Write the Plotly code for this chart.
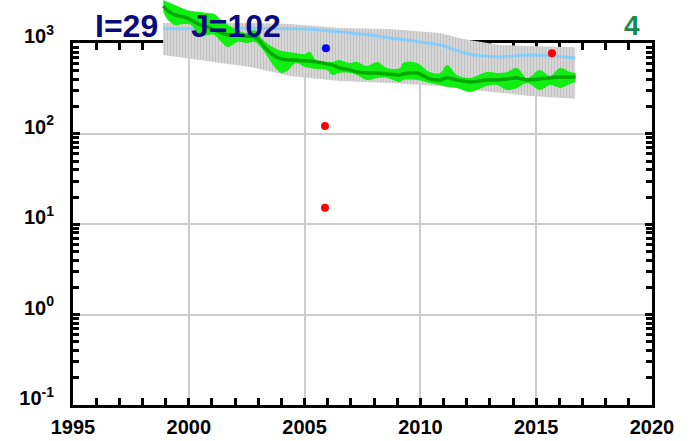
import plotly.graph_objects as go

# ---------------- data ----------------
gray_years = [1998.89, 2000.48, 2002.64, 2004.37, 2006.53, 2008.69, 2010.85,
              2011.84, 2012.57, 2013.44, 2014.73, 2016.68]
gray_hi = [1684, 1684, 1684, 1642, 1484, 1446, 1306, 1121, 1040, 962, 938, 905]
gray_lo = [746, 657, 550, 437, 385, 366, 339, 314, 299, 284, 263, 244]

blue_years = [1998.89, 2004.8, 2006.5, 2007.8, 2008.7, 2010.0, 2010.85,
              2011.9, 2012.6, 2013.4, 2014.7, 2015.6, 2016.68]
blue_vals = [1450, 1450, 1340, 1240, 1150, 1040, 960, 785, 730, 710, 745, 730, 690]

green_years = [1998.9, 1999.1, 1999.4, 1999.8, 2000.1, 2000.5, 2000.8, 2001.1,
               2001.4, 2001.7, 2002.1, 2002.5, 2002.85, 2003.1, 2003.3, 2003.7,
               2004.0, 2004.3, 2004.6, 2005.0, 2005.23, 2005.5, 2005.97, 2006.2,
               2006.5, 2006.95, 2007.26, 2007.69, 2008.13, 2008.56, 2009.12,
               2009.25, 2009.85, 2010.4, 2010.85, 2011.15, 2011.58, 2012.14,
               2012.87, 2013.3, 2013.74, 2014.17, 2014.6, 2015.16, 2015.6,
               2016.03, 2016.46, 2016.7]
green_hi = [3024, 2874, 2664, 2406, 2287, 2230, 2173, 2118,
            1818, 1601, 1410, 1306, 1410, 1180, 1039, 892,
            826, 806, 785, 766, 806, 657, 625, 625,
            657, 609, 625, 564, 625, 536, 536,
            609, 609, 484, 472, 579, 449, 416,
            484, 472, 484, 536, 416, 510, 437,
            536, 484, 472]
green_mid = [2597, 2287, 2065, 1962, 1818, 1601, 1522, 1410,
             1306, 1241, 1241, 1210, 1180, 1039, 892, 728,
             674, 657, 657, 641, 641, 625, 594, 579,
             536, 510, 484, 472, 472, 460, 449,
             460, 472, 405, 395, 416, 395, 375,
             395, 395, 405, 416, 395, 405, 416,
             426, 426, 426]
green_lo = [2230, 1818, 1601, 1642, 1601, 1210, 1241, 1241,
            1039, 915, 1039, 1013, 1039, 915, 785, 550,
            472, 510, 609, 550, 536, 523, 510, 449,
            472, 472, 449, 395, 416, 416, 375,
            395, 395, 366, 348, 331, 322, 291,
            339, 348, 306, 322, 366, 306, 348,
            322, 357, 375]

blue_pt_x = [2005.92]
blue_pt_y = [885]
red_top_x = [2015.68]
red_top_y = [780]
red_low_x = [2005.88, 2005.88]
red_low_y = [122, 15.2]

x_major = [1995, 2000, 2005, 2010, 2015, 2020]
x_minor = list(range(1995, 2021))
y_major = [0.1, 1, 10, 100, 1000]
y_text = ["10<sup>-1</sup>", "10<sup>0</sup>", "10<sup>1</sup>",
          "10<sup>2</sup>", "10<sup>3</sup>"]
y_minor = [m * 10.0 ** e for e in range(-1, 3) for m in range(2, 10)]

# ---------------- figure ----------------
FONT = "Liberation Sans, Arial, sans-serif"
fig = go.Figure()
kw = dict(xaxis="x2", yaxis="y2", showlegend=False, hoverinfo="skip")

# points inside the frame go on the frame axes (this also creates the frame subplot)
fig.add_trace(go.Scatter(x=red_low_x, y=red_low_y, mode="markers",
                         marker=dict(size=8, color="#ff0000"),
                         xaxis="x", yaxis="y", showlegend=False, hoverinfo="skip"))

fig.add_trace(go.Scatter(x=gray_years, y=gray_lo, mode="lines",
                         line=dict(width=0, color="#d0d0d0"), **kw))
fig.add_trace(go.Scatter(x=gray_years, y=gray_hi, mode="lines",
                         line=dict(width=0, color="#d0d0d0"), fill="tonexty",
                         fillcolor="#d3d3d3",
                         fillpattern=dict(shape="|", size=3, solidity=0.3,
                                          fgcolor="#c0c0c0", bgcolor="#d6d6d6"),
                         **kw))
fig.add_trace(go.Scatter(x=blue_years, y=blue_vals, mode="lines",
                         line=dict(width=3, color="#87cefa", shape="spline"), **kw))
fig.add_trace(go.Scatter(x=green_years, y=green_lo, mode="lines",
                         line=dict(width=0, color="#00ee00", shape="spline"), **kw))
fig.add_trace(go.Scatter(x=green_years, y=green_hi, mode="lines",
                         line=dict(width=0, color="#00ee00", shape="spline"),
                         fill="tonexty", fillcolor="#11ee11", **kw))
fig.add_trace(go.Scatter(x=green_years, y=green_mid, mode="lines",
                         line=dict(width=3.5, color="#00aa00", shape="spline"), **kw))
fig.add_trace(go.Scatter(x=blue_pt_x, y=blue_pt_y, mode="markers",
                         marker=dict(size=8, color="#0000ff"), **kw))
fig.add_trace(go.Scatter(x=red_top_x, y=red_top_y, mode="markers",
                         marker=dict(size=8, color="#ff0000"), **kw))

top_log = 3 + 43.5 / 90.5
frame_dom = 4 / (top_log + 1)

tickfont = dict(family=FONT, size=20, color="black", weight="bold")
common = dict(ticks="inside", ticklen=7, tickwidth=3, tickcolor="black",
              showline=True, linecolor="black", linewidth=3, mirror="ticks",
              showgrid=True, gridcolor="#cccccc", gridwidth=2, zeroline=False,
              tickfont=tickfont, automargin=False)

fig.update_layout(
    template="none",
    width=700, height=441,
    margin=dict(l=73, r=48, t=0, b=36, autoexpand=False),
    paper_bgcolor="white", plot_bgcolor="rgba(0,0,0,0)",
    xaxis=dict(range=[1995, 2020], domain=[0, 1], anchor="y",
               tickmode="array", tickvals=x_major, ticklabelstandoff=2,
               minor=dict(tickmode="array", tickvals=x_minor, ticks="inside",
                          ticklen=7, tickwidth=3, tickcolor="black", showgrid=False),
               **common),
    yaxis=dict(type="log", range=[-1, 3], domain=[0, frame_dom], anchor="x",
               tickmode="array", tickvals=y_major, ticktext=y_text,
               ticklabelshift=-7, ticklabelstandoff=12,
               minor=dict(tickmode="array", tickvals=y_minor, ticks="inside",
                          ticklen=6, tickwidth=2.5, tickcolor="black", showgrid=False),
               **common),
    xaxis2=dict(range=[1995, 2020], domain=[0, 1], anchor="y2", visible=False,
                showgrid=False, automargin=False),
    yaxis2=dict(type="log", range=[-1, top_log], domain=[0, 1], anchor="x2",
                visible=False, showgrid=False, automargin=False),
)

title_font = dict(family=FONT, size=32, color="#0a0a80", weight="bold")
fig.add_annotation(text="I=29", xref="paper", yref="paper", x=0.0345, y=0.936,
                   xanchor="left", yanchor="middle", showarrow=False, font=title_font)
fig.add_annotation(text="J=102", xref="paper", yref="paper", x=0.2003, y=0.936,
                   xanchor="left", yanchor="middle", showarrow=False, font=title_font)
fig.add_annotation(text="4", xref="paper", yref="paper", x=0.9827, y=0.938,
                   xanchor="right", yanchor="middle", showarrow=False,
                   font=dict(family=FONT, size=28, color="#0f8c50", weight="bold"))

fig.write_html("out.html",
               config={"displayModeBar": False},
               post_script="document.body.style.margin='0';"
                           "document.body.style.overflow='hidden';")
